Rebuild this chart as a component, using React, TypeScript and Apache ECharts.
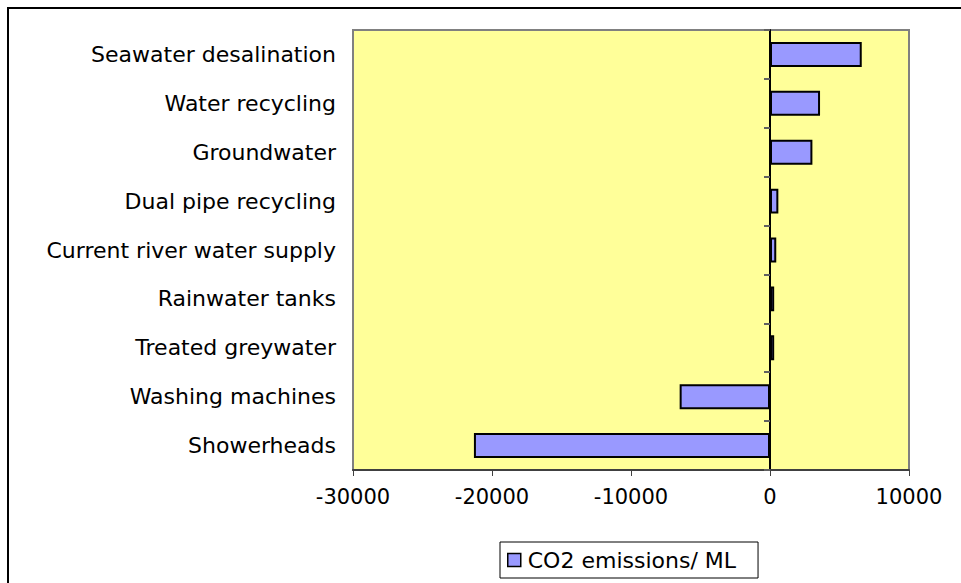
import React, { useEffect, useRef } from "react";
import * as echarts from "echarts";

const categories = [
  "Showerheads",
  "Washing machines",
  "Treated greywater",
  "Rainwater tanks",
  "Current river water supply",
  "Dual pipe recycling",
  "Groundwater",
  "Water recycling",
  "Seawater desalination",
];
const co2Values = [-21300, -6500, 300, 300, 450, 600, 3050, 3600, 6600];
const seriesName = "CO2 emissions/ ML";
const xTicks = { min: -30000, max: 10000, interval: 10000 };

const FONT = "DejaVu Sans";
const FS = 22;
const FSX = 21;

export default function App() {
  const ref = useRef<HTMLDivElement>(null);
  useEffect(() => {
    if (!ref.current) return;
    const chart = echarts.init(ref.current, null, { renderer: "svg" });
    chart.setOption({
      animation: false,
      backgroundColor: "#ffffff",
      textStyle: { fontFamily: FONT },
      graphic: [
        {
          type: "rect",
          shape: { x: 8, y: 8, width: 1100, height: 1100 },
          style: { fill: "none", stroke: "#000000", lineWidth: 2 },
          silent: true,
          z: 100,
        },
      ],
      grid: {
        left: 353,
        top: 30,
        right: 52,
        bottom: 113,
        show: true,
        backgroundColor: "#FFFF99",
        borderColor: "#808080",
        borderWidth: 2,
      },
      xAxis: {
        type: "value",
        min: xTicks.min,
        max: xTicks.max,
        interval: xTicks.interval,
        axisLine: { show: true, onZero: false, lineStyle: { color: "#404040", width: 2 } },
        axisTick: { show: true, length: 6, lineStyle: { color: "#404040", width: 1 } },
        axisLabel: {
          color: "#000",
          fontSize: FSX,
          fontFamily: FONT,
          margin: 16,
          formatter: (v: number) => String(v),
        },
        splitLine: { show: false },
      },
      yAxis: [
        {
          type: "category",
          data: categories,
          position: "left",
          axisLine: { show: false, onZero: false },
          axisTick: { show: false },
          axisLabel: { color: "#000", fontSize: FS, fontFamily: FONT, margin: 17 },
          splitLine: { show: false },
        },
        {
          type: "category",
          data: categories,
          position: "right",
          axisLine: { show: true, onZero: true, lineStyle: { color: "#000", width: 2 } },
          axisTick: { show: true, inside: true, length: 6, lineStyle: { color: "#606060", width: 2 } },
          axisLabel: { show: false },
          splitLine: { show: false },
        },
      ],
      legend: {
        show: true,
        left: 500,
        top: 542,
        orient: "horizontal",
        padding: [7, 22, 7, 7],
        borderColor: "#000",
        borderWidth: 1,
        itemWidth: 13,
        itemHeight: 13,
        itemGap: 4,
        icon: "rect",
        itemStyle: { borderColor: "#000", borderWidth: 1.5 },
        textStyle: { color: "#000", fontSize: FS, fontFamily: FONT, padding: [0, 0, 0, 2] },
        data: [seriesName],
      },
      series: [
        {
          name: seriesName,
          type: "bar",
          yAxisIndex: 0,
          data: co2Values,
          barCategoryGap: "49%",
          itemStyle: { color: "#9999FF", borderColor: "#000000", borderWidth: 2 },
        },
      ],
    });
    return () => chart.dispose();
  }, []);
  return (
    <div
      ref={ref}
      style={{ position: "fixed", left: 0, top: 0, width: 961, height: 583 }}
    />
  );
}
